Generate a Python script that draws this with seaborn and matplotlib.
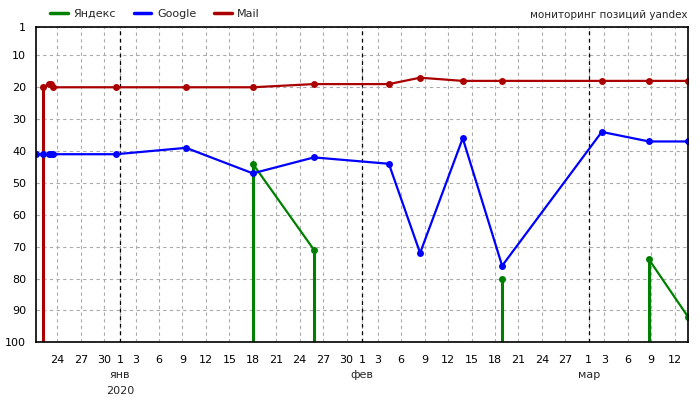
import numpy as np
import pandas as pd
import matplotlib
matplotlib.use('Agg')
import matplotlib.pyplot as plt
import matplotlib.dates as mdates
from matplotlib.lines import Line2D
from matplotlib.ticker import FuncFormatter, FixedLocator
import seaborn as sns

sns.set_style('white')
plt.rcParams['font.family'] = ['DejaVu Sans']

# dates of the position checks
check_dates = [
    '2019-12-21 06:00', '2019-12-22 03:00', '2019-12-22 22:00', '2019-12-23 04:00',
    '2019-12-23 10:00', '2019-12-31 12:00', '2020-01-09 11:00', '2020-01-18 00:00',
    '2020-01-25 20:00', '2020-02-04 10:00', '2020-02-08 10:00', '2020-02-13 21:00',
    '2020-02-18 22:00', '2020-03-02 16:00', '2020-03-08 17:00', '2020-03-13 17:00',
]
# rank per search engine (nan = not in top 100)
yandex_rank = [np.nan] * 7 + [44, 71, np.nan, np.nan, np.nan, 80, np.nan, 74, 92]
google_rank = [41, 41, 41, 41, 41, 41, 39, 47, 42, 44, 72, 36, 76, 34, 37, 37]
mail_rank = [np.nan, 20, 19, 19, 20, 20, 20, 20, 19, 19, 17, 18, 18, 18, 18, 18]

engines = ['Яндекс', 'Google', 'Mail']
colors = ['#008000', '#0000ff', '#aa0000']
month_names = {1: 'янв', 2: 'фев', 3: 'мар'}
year_label = '2020'
tick_days = [1, 3, 6, 9, 12, 15, 18, 21, 24, 27, 30]
rank_ticks = [1, 10, 20, 30, 40, 50, 60, 70, 80, 90, 100]
title = 'мониторинг позиций yandex'

dates = pd.to_datetime(check_dates)
frames = []
for name, ranks in zip(engines, [yandex_rank, google_rank, mail_rank]):
    r = pd.Series(ranks, dtype=float)
    seg = r.isna().cumsum()
    frames.append(pd.DataFrame({'date': dates, 'rank': r, 'engine': name, 'seg': seg}))
df = pd.concat(frames, ignore_index=True)
palette = dict(zip(engines, colors))

fig = plt.figure(figsize=(7, 4), dpi=100)
ax = fig.add_axes([36 / 700, 1 - 342.3 / 400, (688 - 36) / 700, (342.3 - 26.7) / 400])

# grid
ax.set_axisbelow(True)
ax.grid(True, color='#aaaaaa', linestyle=(0, (3, 3)), linewidth=0.8)

# month boundaries
start, end = dates.min(), dates.max()
month_starts = pd.date_range(start.normalize(), end, freq='MS')
for m in month_starts:
    ax.axvline(m, color='black', linestyle=(0, (3, 3)), linewidth=0.9, zorder=1)

# drop lines where a rank appears / disappears
for name, frame in df.groupby('engine', sort=False):
    r = frame['rank'].to_numpy()
    d = frame['date'].to_numpy()
    for i in range(len(r)):
        if np.isnan(r[i]):
            continue
        prev_missing = i > 0 and np.isnan(r[i - 1])
        next_missing = i < len(r) - 1 and np.isnan(r[i + 1])
        if prev_missing or next_missing:
            ax.vlines(d[i], r[i], 100, color=palette[name], linewidth=2.2, zorder=1.5)

sns.lineplot(data=df.dropna(), x='date', y='rank', hue='engine', hue_order=engines,
             units='seg', estimator=None, palette=palette, marker='o', markersize=5,
             markeredgewidth=0, linewidth=1.6, legend=False, ax=ax, zorder=2)

ax.set_ylim(100, 1)
ax.set_xlim(start, end)
ax.yaxis.set_major_locator(FixedLocator(rank_ticks))
ax.xaxis.set_major_locator(mdates.DayLocator(bymonthday=tick_days))
ax.xaxis.set_major_formatter(FuncFormatter(lambda v, p: str(mdates.num2date(v).day)))
ax.tick_params(axis='both', length=0, labelsize=8, colors='black')
ax.tick_params(axis='x', pad=9)
ax.tick_params(axis='y', pad=7)
ax.set_xlabel('')
ax.set_ylabel('')
for s in ax.spines.values():
    s.set_color('black')
    s.set_linewidth(1.2)

trans = ax.get_xaxis_transform()
for i, m in enumerate(month_starts):
    ax.text(m, -0.104, month_names[m.month], transform=trans, ha='center', va='center',
            fontsize=8)
    if i == 0 or m.month == 1:
        ax.text(m, -0.154, year_label, transform=trans, ha='center', va='center', fontsize=8)

handles = [Line2D([], [], color=c, linewidth=2.5) for c in colors]
fig.legend(handles, engines, loc='center left', bbox_to_anchor=(50 / 700, 1 - 14 / 400),
           ncol=3, frameon=False, fontsize=8, handlelength=1.6, handletextpad=0.5,
           columnspacing=1.6, borderaxespad=0, borderpad=0)
fig.text(688 / 700, 1 - 15 / 400, title, ha='right', va='center', fontsize=7.5)

fig.savefig('out.png', dpi=100)
